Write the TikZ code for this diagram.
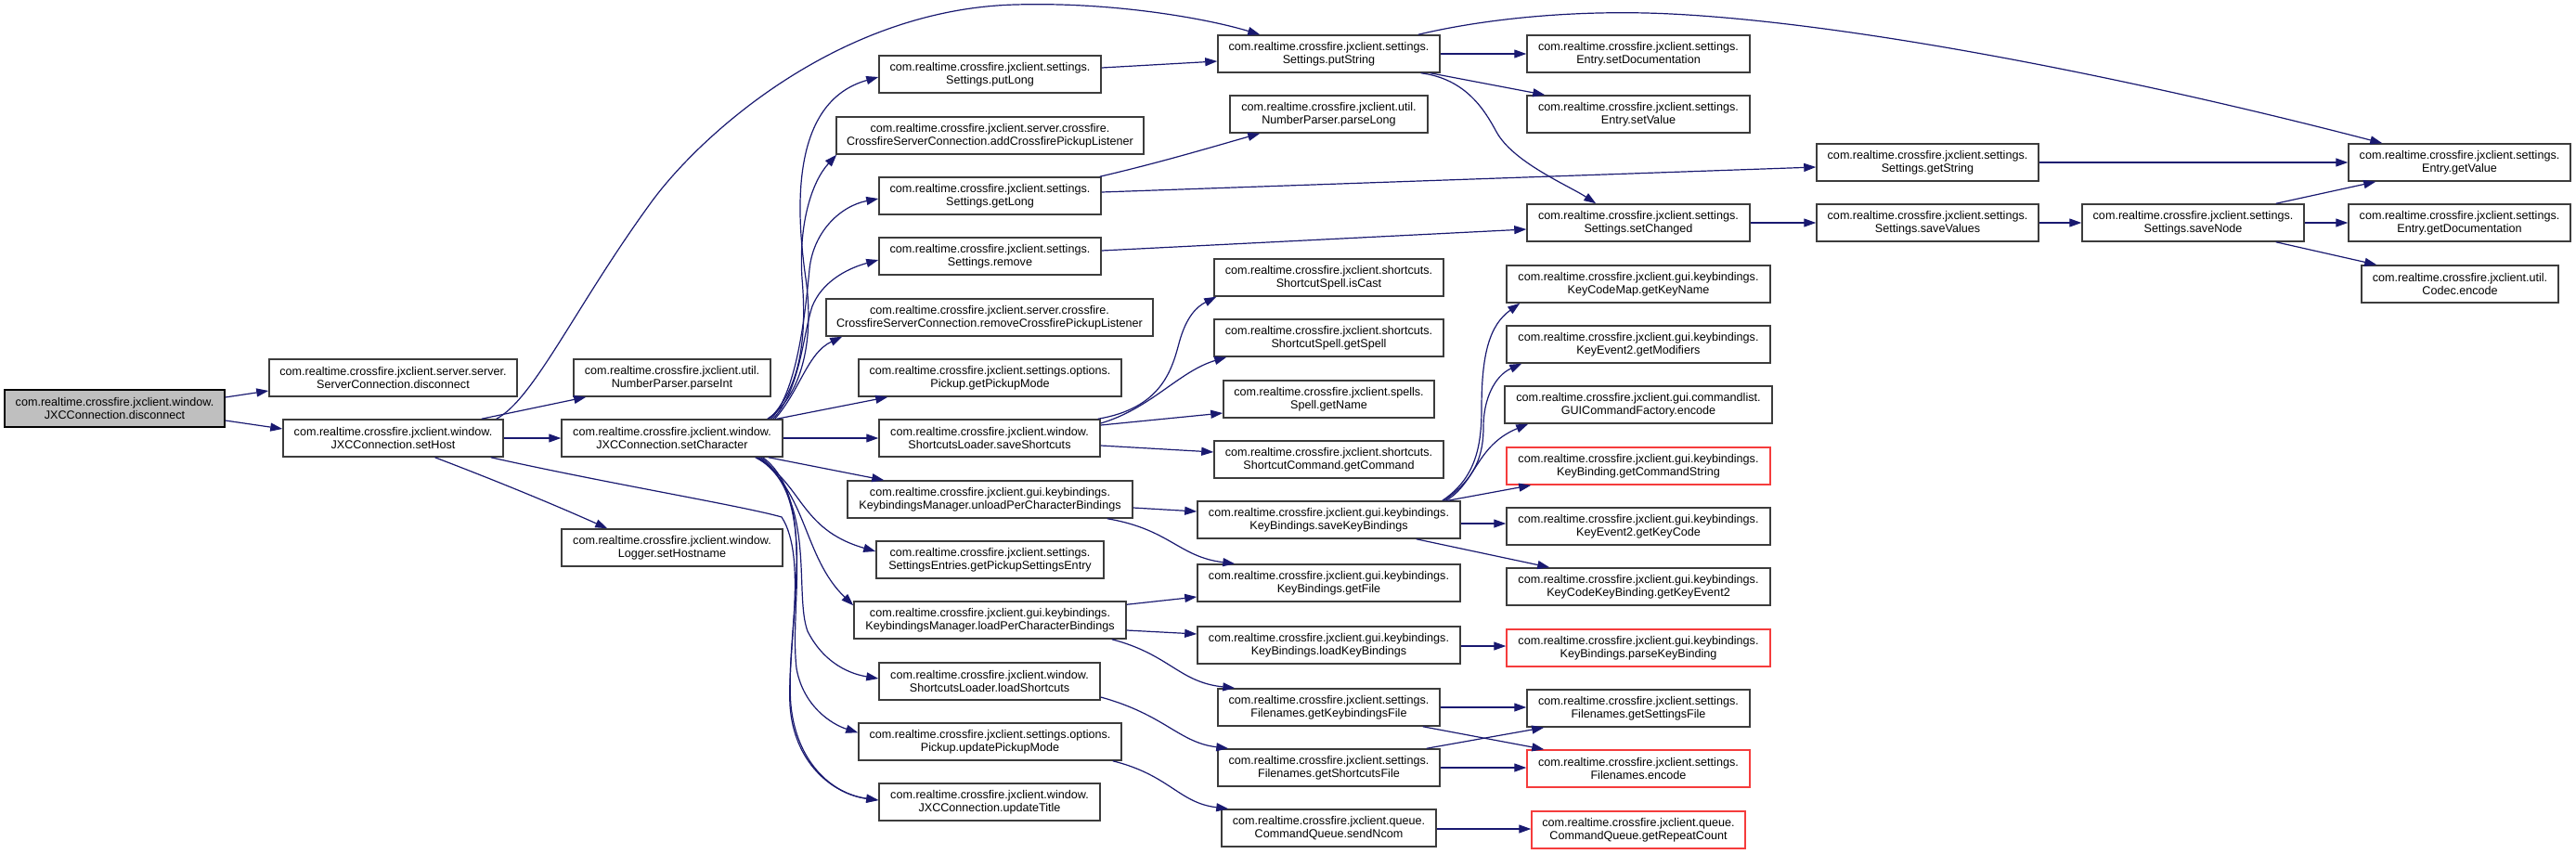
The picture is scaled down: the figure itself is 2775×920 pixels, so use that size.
\documentclass[tikz,border=0pt]{standalone}
\usepackage{fontspec}
\setmainfont{Liberation Sans}
\usetikzlibrary{arrows.meta,calc}
\definecolor{edgeblue}{RGB}{25,25,112}
\definecolor{boxline}{RGB}{60,60,60}
\definecolor{redline}{RGB}{245,60,60}
\definecolor{mainfill}{RGB}{191,191,191}
\tikzset{
  fn/.style={draw=boxline, line width=1.5pt, rectangle, inner sep=0pt, minimum height=40pt, align=center, font=\fontsize{12.6}{14}\selectfont},
  fnred/.style={fn, draw=redline},
  fnmain/.style={fn, fill=mainfill, draw=black},
  edge/.style={draw=edgeblue, line width=1.2pt, -{Triangle[length=13pt,width=9pt]}}
}
\begin{document}
\begin{tikzpicture}[x=1pt,y=-1pt]
\useasboundingbox (0,0) rectangle (2775,920);
% column 0-1
\node[fnmain, minimum width=237] (dis) at (123.5,440) {com.realtime.crossfire.jxclient.window.\\JXCConnection.disconnect};
\node[fn, minimum width=267] (scd) at (423.5,407) {com.realtime.crossfire.jxclient.server.server.\\ServerConnection.disconnect};
\node[fn, minimum width=237] (sh) at (423.5,472) {com.realtime.crossfire.jxclient.window.\\JXCConnection.setHost};
\node[fn, minimum width=212] (pi) at (724,407) {com.realtime.crossfire.jxclient.util.\\NumberParser.parseInt};
\node[fn, minimum width=238] (sc) at (724,472) {com.realtime.crossfire.jxclient.window.\\JXCConnection.setCharacter};
\node[fn, minimum width=238] (lh) at (724,590) {com.realtime.crossfire.jxclient.window.\\Logger.setHostname};
% column 2
\node[fn, minimum width=239] (pl) at (1066.5,80) {com.realtime.crossfire.jxclient.settings.\\Settings.putLong};
\node[fn, minimum width=331] (acl) at (1066.5,146) {com.realtime.crossfire.jxclient.server.crossfire.\\CrossfireServerConnection.addCrossfirePickupListener};
\node[fn, minimum width=239] (gl) at (1066.5,211) {com.realtime.crossfire.jxclient.settings.\\Settings.getLong};
\node[fn, minimum width=239] (rm) at (1066.5,276) {com.realtime.crossfire.jxclient.settings.\\Settings.remove};
\node[fn, minimum width=352] (rcl) at (1066,342) {com.realtime.crossfire.jxclient.server.crossfire.\\CrossfireServerConnection.removeCrossfirePickupListener};
\node[fn, minimum width=283] (gpm) at (1066.5,407) {com.realtime.crossfire.jxclient.settings.options.\\Pickup.getPickupMode};
\node[fn, minimum width=238] (ss) at (1066,472) {com.realtime.crossfire.jxclient.window.\\ShortcutsLoader.saveShortcuts};
\node[fn, minimum width=307] (upb) at (1066.5,538) {com.realtime.crossfire.jxclient.gui.keybindings.\\KeybindingsManager.unloadPerCharacterBindings};
\node[fn, minimum width=245] (gpse) at (1066.5,603) {com.realtime.crossfire.jxclient.settings.\\SettingsEntries.getPickupSettingsEntry};
\node[fn, minimum width=293] (lpb) at (1066.5,668) {com.realtime.crossfire.jxclient.gui.keybindings.\\KeybindingsManager.loadPerCharacterBindings};
\node[fn, minimum width=238] (ls) at (1066,734) {com.realtime.crossfire.jxclient.window.\\ShortcutsLoader.loadShortcuts};
\node[fn, minimum width=283] (upm) at (1066.5,799) {com.realtime.crossfire.jxclient.settings.options.\\Pickup.updatePickupMode};
\node[fn, minimum width=238] (ut) at (1066,864) {com.realtime.crossfire.jxclient.window.\\JXCConnection.updateTitle};
% column 3
\node[fn, minimum width=239] (ps) at (1431.5,58) {com.realtime.crossfire.jxclient.settings.\\Settings.putString};
\node[fn, minimum width=213] (pLong) at (1431.5,123) {com.realtime.crossfire.jxclient.util.\\NumberParser.parseLong};
\node[fn, minimum width=247] (isc) at (1431.5,299) {com.realtime.crossfire.jxclient.shortcuts.\\ShortcutSpell.isCast};
\node[fn, minimum width=247] (gsp) at (1431.5,364) {com.realtime.crossfire.jxclient.shortcuts.\\ShortcutSpell.getSpell};
\node[fn, minimum width=227] (sgn) at (1431.5,430) {com.realtime.crossfire.jxclient.spells.\\Spell.getName};
\node[fn, minimum width=247] (gc) at (1431.5,495) {com.realtime.crossfire.jxclient.shortcuts.\\ShortcutCommand.getCommand};
\node[fn, minimum width=283] (skb) at (1431.5,560) {com.realtime.crossfire.jxclient.gui.keybindings.\\KeyBindings.saveKeyBindings};
\node[fn, minimum width=283] (gf) at (1431.5,628) {com.realtime.crossfire.jxclient.gui.keybindings.\\KeyBindings.getFile};
\node[fn, minimum width=283] (lkb) at (1431.5,695) {com.realtime.crossfire.jxclient.gui.keybindings.\\KeyBindings.loadKeyBindings};
\node[fn, minimum width=239] (gkf) at (1431.5,762) {com.realtime.crossfire.jxclient.settings.\\Filenames.getKeybindingsFile};
\node[fn, minimum width=239] (gsf) at (1431.5,827) {com.realtime.crossfire.jxclient.settings.\\Filenames.getShortcutsFile};
\node[fn, minimum width=231] (snc) at (1431.5,892) {com.realtime.crossfire.jxclient.queue.\\CommandQueue.sendNcom};
% column 4
\node[fn, minimum width=240] (sdoc) at (1765,58) {com.realtime.crossfire.jxclient.settings.\\Entry.setDocumentation};
\node[fn, minimum width=240] (sv) at (1765,123) {com.realtime.crossfire.jxclient.settings.\\Entry.setValue};
\node[fn, minimum width=240] (sch) at (1765,240) {com.realtime.crossfire.jxclient.settings.\\Settings.setChanged};
\node[fn, minimum width=284] (gkn) at (1765,306) {com.realtime.crossfire.jxclient.gui.keybindings.\\KeyCodeMap.getKeyName};
\node[fn, minimum width=284] (gm) at (1765,371) {com.realtime.crossfire.jxclient.gui.keybindings.\\KeyEvent2.getModifiers};
\node[fn, minimum width=288] (gcf) at (1765,436) {com.realtime.crossfire.jxclient.gui.commandlist.\\GUICommandFactory.encode};
\node[fnred, minimum width=284] (gcs) at (1765,502) {com.realtime.crossfire.jxclient.gui.keybindings.\\KeyBinding.getCommandString};
\node[fn, minimum width=284] (gkc) at (1765,567) {com.realtime.crossfire.jxclient.gui.keybindings.\\KeyEvent2.getKeyCode};
\node[fn, minimum width=284] (gke) at (1765,632) {com.realtime.crossfire.jxclient.gui.keybindings.\\KeyCodeKeyBinding.getKeyEvent2};
\node[fnred, minimum width=284] (pkb) at (1765,698) {com.realtime.crossfire.jxclient.gui.keybindings.\\KeyBindings.parseKeyBinding};
\node[fn, minimum width=240] (gsetf) at (1765,763) {com.realtime.crossfire.jxclient.settings.\\Filenames.getSettingsFile};
\node[fnred, minimum width=240] (fe) at (1765,828) {com.realtime.crossfire.jxclient.settings.\\Filenames.encode};
\node[fnred, minimum width=230] (grc) at (1765,894) {com.realtime.crossfire.jxclient.queue.\\CommandQueue.getRepeatCount};
% column 5-6
\node[fn, minimum width=239] (gs) at (2076.5,175) {com.realtime.crossfire.jxclient.settings.\\Settings.getString};
\node[fn, minimum width=239] (svv) at (2076.5,240) {com.realtime.crossfire.jxclient.settings.\\Settings.saveValues};
\node[fn, minimum width=239] (sn) at (2362.5,240) {com.realtime.crossfire.jxclient.settings.\\Settings.saveNode};
\node[fn, minimum width=239] (gv) at (2649.5,175) {com.realtime.crossfire.jxclient.settings.\\Entry.getValue};
\node[fn, minimum width=239] (gd) at (2649.5,240) {com.realtime.crossfire.jxclient.settings.\\Entry.getDocumentation};
\node[fn, minimum width=212] (ce) at (2650,306) {com.realtime.crossfire.jxclient.util.\\Codec.encode};

% edges from disconnect / setHost
\draw[edge] ($(dis.east)+(0,-12)$) -- ($(scd.west)+(0,14)$);
\draw[edge] ($(dis.east)+(0,13)$) -- ($(sh.west)+(0,-10)$);
\draw[edge] ($(sh.north east)+(-24,0)$) -- ($(pi.south west)+(14,0)$);
\draw[edge] ($(sh.north east)+(-8,0)$) .. controls (575,430) and (620,330) .. (700,220)
  .. controls (750,150) and (900,10) .. (1094,5)
  .. controls (1200,2) and (1300,20) .. ($(ps.north west)+(46,0)$);
\draw[edge] (sh.east) -- (sc.west);
\draw[edge] ($(sh.south)+(45,0)$) .. controls (540,520) and (600,545) .. ($(lh.north west)+(50,0)$);
\draw[edge] ($(sh.south east)+(-14,0)$) .. controls (650,520) and (800,545) .. (842,557)
  .. controls (870,600) and (848,700) .. (851,760)
  .. controls (855,820) and (895,855) .. ($(ut.west)+(0,-2)$);

% setCharacter fan up
\draw[edge] ($(sc.north east)+(-17,0)$) .. controls (862,428) and (878,370) .. (868,300)
  .. controls (858,230) and (850,110) .. ($(pl.west)+(0,3)$);
\draw[edge] ($(sc.north east)+(-15,0)$) .. controls (860,420) and (870,370) .. (864,300)
  .. controls (860,240) and (875,195) .. ($(acl.south west)+(1,0)$);
\draw[edge] ($(sc.north east)+(-13,0)$) .. controls (860,420) and (868,330) .. (872,290)
  .. controls (876,250) and (905,222) .. ($(gl.west)+(0,3)$);
\draw[edge] ($(sc.north east)+(-11,0)$) .. controls (862,420) and (865,360) .. (875,330)
  .. controls (885,305) and (910,290) .. ($(rm.west)+(0,4)$);
\draw[edge] ($(sc.north east)+(-9,0)$) .. controls (862,420) and (870,380) .. ($(rcl.south west)+(18,0)$);
\draw[edge] ($(sc.north east)+(-7,0)$) -- ($(gpm.south west)+(32,0)$);
\draw[edge] (sc.east) -- (ss.west);
% setCharacter fan down
\draw[edge] ($(sc.south east)+(-16,0)$) -- ($(upb.north west)+(40,0)$);
\draw[edge] ($(sc.south east)+(-30,0)$) .. controls (865,520) and (860,570) .. ($(gpse.west)+(0,-9)$);
\draw[edge] ($(sc.south east)+(-28,0)$) .. controls (870,530) and (865,600) .. ($(lpb.north west)+(0,5)$);
\draw[edge] ($(sc.south east)+(-26,0)$) .. controls (880,540) and (855,640) .. (870,680)
  .. controls (885,710) and (910,725) .. ($(ls.west)+(0,-3)$);
\draw[edge] ($(sc.south east)+(-24,0)$) .. controls (880,540) and (850,650) .. (858,720)
  .. controls (865,760) and (895,780) .. ($(upm.north west)+(0,11)$);
\draw[edge] ($(sc.south east)+(-22,0)$) .. controls (885,540) and (845,680) .. (852,760)
  .. controls (858,820) and (895,855) .. ($(ut.west)+(0,-2)$);

% column 2 -> 3
\draw[edge] ($(pl.east)+(0,-7)$) -- ($(ps.west)+(0,8)$);
\draw[edge] ($(gl.north east)+(-2,0)$) .. controls (1250,175) and (1300,160) .. ($(pLong.south west)+(33,0)$);
\draw[edge] ($(gl.east)+(0,-4)$) -- ($(gs.west)+(0,5)$);
\draw[edge] ($(rm.east)+(0,-6)$) -- ($(sch.west)+(0,7)$);
\draw[edge] ($(ss.north east)+(-3,0)$) .. controls (1250,440) and (1262,400) .. (1270,370)
  .. controls (1278,340) and (1290,330) .. ($(isc.south west)+(3,0)$);
\draw[edge] ($(ss.east)+(0,-16)$) .. controls (1240,440) and (1270,400) .. ($(gsp.south west)+(14,0)$);
\draw[edge] ($(ss.east)+(0,-14)$) -- ($(sgn.west)+(0,15)$);
\draw[edge] ($(ss.east)+(0,8)$) -- ($(gc.west)+(0,-8)$);
\draw[edge] ($(upb.east)+(0,9)$) -- ($(skb.west)+(0,-9)$);
\draw[edge] ($(upb.south east)+(-28,0)$) .. controls (1260,570) and (1270,600) .. ($(gf.north west)+(41,0)$);
\draw[edge] ($(lpb.north east)+(0,4)$) -- ($(gf.west)+(0,15)$);
\draw[edge] ($(lpb.east)+(0,11)$) -- ($(lkb.west)+(0,-12)$);
\draw[edge] ($(lpb.south east)+(-16,0)$) .. controls (1260,705) and (1270,735) .. ($(gkf.north west)+(19,0)$);
\draw[edge] ($(ls.east)+(0,17)$) .. controls (1255,770) and (1270,800) .. ($(gsf.north west)+(12,0)$);
\draw[edge] ($(upm.south east)+(-10,0)$) .. controls (1260,835) and (1270,865) .. ($(snc.north west)+(8,0)$);

% column 3 -> 4 and beyond
\draw[edge] (ps.east) -- (sdoc.west);
\draw[edge] ($(ps.south east)+(-11,0)$) -- ($(sv.north west)+(20,0)$);
\draw[edge] ($(ps.south east)+(-21,0)$) .. controls (1580,85) and (1600,120) .. (1612,142)
  .. controls (1630,175) and (1690,200) .. ($(sch.north west)+(75,0)$);
\draw[edge] ($(ps.north east)+(-24,0)$) .. controls (1600,20) and (1700,10) .. (1800,15)
  .. controls (2000,25) and (2300,85) .. ($(gv.north west)+(37,0)$);
\draw[edge] (gs.east) -- (gv.west);
\draw[edge] (sch.east) -- (svv.west);
\draw[edge] (svv.east) -- (sn.west);
\draw[edge] ($(sn.north east)+(-31,0)$) -- ($(gv.south west)+(30,0)$);
\draw[edge] (sn.east) -- (gd.west);
\draw[edge] ($(sn.south east)+(-31,0)$) -- ($(ce.north west)+(17,0)$);

\draw[edge] ($(skb.north east)+(-20,0)$) .. controls (1590,515) and (1596,480) .. (1596,440)
  .. controls (1596,380) and (1605,350) .. ($(gkn.south west)+(15,0)$);
\draw[edge] ($(skb.north east)+(-18,0)$) .. controls (1590,515) and (1598,490) .. (1598,460)
  .. controls (1598,430) and (1610,405) .. ($(gm.south west)+(17,0)$);
\draw[edge] ($(skb.north east)+(-16,0)$) .. controls (1590,520) and (1590,480) .. ($(gcf.south west)+(26,0)$);
\draw[edge] ($(skb.north east)+(-14,0)$) -- ($(gcs.south west)+(27,0)$);
\draw[edge] ($(skb.east)+(0,4)$) -- ($(gkc.west)+(0,-3)$);
\draw[edge] ($(skb.south east)+(-48,0)$) -- ($(gke.north west)+(47,0)$);
\draw[edge] ($(lkb.east)+(0,1)$) -- ($(pkb.west)+(0,-2)$);
\draw[edge] (gkf.east) -- ($(gsetf.west)+(0,-1)$);
\draw[edge] ($(gkf.south east)+(-19,0)$) -- ($(fe.north west)+(19,0)$);
\draw[edge] ($(gsf.north east)+(-15,0)$) -- ($(gsetf.south west)+(19,0)$);
\draw[edge] (gsf.east) -- ($(fe.west)+(0,-1)$);
\draw[edge] ($(snc.east)+(0,1)$) -- ($(grc.west)+(0,-1)$);
\end{tikzpicture}
\end{document}
